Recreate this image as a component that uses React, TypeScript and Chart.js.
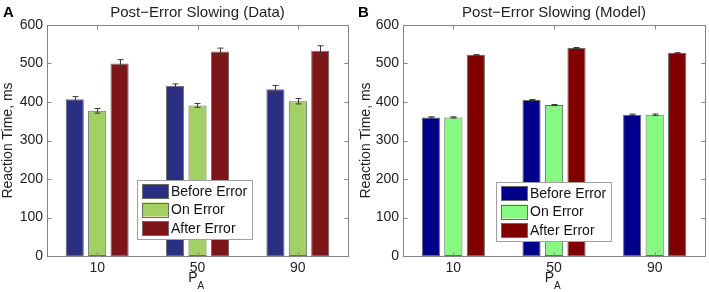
import React, { useEffect, useRef } from 'react';
import { Chart, registerables } from 'chart.js';
Chart.register(...registerables);

const categories = ['10', '50', '90'];
const seriesLabels = ['Before Error', 'On Error', 'After Error'];
const yTicks = [0, 100, 200, 300, 400, 500, 600];

const dataBefore = [407, 442, 433];
const dataOn = [377, 391, 402];
const dataAfter = [500, 531, 533];
const dataErrBefore = [7, 5, 10];
const dataErrOn = [6, 5, 7];
const dataErrAfter = [10, 9, 13];

const modelBefore = [360, 405, 367];
const modelOn = [360, 392, 367];
const modelAfter = [522, 540, 527];
const modelErrBefore = [1.5, 1.5, 1.5];
const modelErrOn = [1.5, 1.5, 2];
const modelErrAfter = [1, 1.5, 1];

const FONT = '"Liberation Sans", Arial, Helvetica, sans-serif';

const panelPlugin = {
  id: 'panelDeco',
  afterDatasetsDraw(chart: any, _args: any, opts: any) {
    const ctx = chart.ctx;
    const ca = chart.chartArea;
    const ys = chart.scales.y;
    const xs = chart.scales.x;
    ctx.save();
    // error bars
    ctx.strokeStyle = '#3a3a3a';
    ctx.lineWidth = 1;
    chart.data.datasets.forEach((ds: any, di: number) => {
      const meta = chart.getDatasetMeta(di);
      const errs = opts.errors[di];
      meta.data.forEach((el: any, i: number) => {
        const v = ds.data[i];
        const e = errs[i];
        const x = Math.round(el.x) + 0.5;
        const yt = ys.getPixelForValue(v + e);
        const yb = ys.getPixelForValue(v - e);
        ctx.beginPath();
        ctx.moveTo(x, yt);
        ctx.lineTo(x, yb);
        ctx.moveTo(x - 3, yt);
        ctx.lineTo(x + 3, yt);
        ctx.moveTo(x - 3, yb);
        ctx.lineTo(x + 3, yb);
        ctx.stroke();
      });
    });
    // frame
    ctx.strokeStyle = '#858585';
    ctx.lineWidth = 1;
    const L = Math.round(ca.left) + 0.5;
    const R = Math.round(ca.right) + 0.5;
    const T = Math.round(ca.top) + 0.5;
    const B = Math.round(ca.bottom) + 0.5;
    ctx.strokeRect(L, T, R - L, B - T);
    ctx.beginPath();
    yTicks.forEach((t) => {
      const y = Math.round(ys.getPixelForValue(t)) + 0.5;
      ctx.moveTo(L, y);
      ctx.lineTo(L + 4, y);
      ctx.moveTo(R, y);
      ctx.lineTo(R - 4, y);
    });
    categories.forEach((_c, i) => {
      const x = Math.round(xs.getPixelForValue(i)) + 0.5;
      ctx.moveTo(x, B);
      ctx.lineTo(x, B - 4);
      ctx.moveTo(x, T);
      ctx.lineTo(x, T + 4);
    });
    ctx.stroke();

    // legend
    const lx = ca.left + opts.legendX;
    const ly = opts.legendY;
    const lw = 115;
    const lh = 59;
    ctx.fillStyle = '#ffffff';
    ctx.fillRect(lx, ly, lw, lh);
    ctx.strokeStyle = '#a0a0a0';
    ctx.strokeRect(Math.round(lx) + 0.5, Math.round(ly) + 0.5, lw, lh);
    ctx.font = '14px ' + FONT;
    ctx.textBaseline = 'middle';
    ctx.textAlign = 'left';
    chart.data.datasets.forEach((ds: any, di: number) => {
      const cy = ly + 11 + di * 18.5;
      ctx.fillStyle = ds.backgroundColor;
      ctx.fillRect(lx + 5, cy - 7, 26, 14);
      ctx.strokeStyle = '#6a6a6a';
      ctx.strokeRect(Math.round(lx + 5) + 0.5, Math.round(cy - 7) + 0.5, 26, 14);
      ctx.fillStyle = '#111';
      ctx.fillText(ds.label, lx + 34, cy + 1);
    });

    // title
    ctx.fillStyle = '#222';
    ctx.textAlign = 'center';
    ctx.textBaseline = 'alphabetic';
    ctx.font = '15px ' + FONT;
    ctx.fillText(opts.title, (ca.left + ca.right) / 2, 17);
    // panel letter
    ctx.textAlign = 'left';
    ctx.font = 'bold 15px ' + FONT;
    ctx.fillStyle = '#000';
    ctx.fillText(opts.letter, opts.letterX, 17);
    // x title P_A
    const cx = (ca.left + ca.right) / 2;
    ctx.fillStyle = '#222';
    ctx.font = '14px ' + FONT;
    ctx.textAlign = 'right';
    ctx.fillText('P', cx, 282);
    ctx.font = '10px ' + FONT;
    ctx.textAlign = 'left';
    ctx.fillText('A', cx, 289);
    // y title
    ctx.save();
    ctx.translate(opts.yTitleX, (ca.top + ca.bottom) / 2);
    ctx.rotate(-Math.PI / 2);
    ctx.textAlign = 'center';
    ctx.textBaseline = 'middle';
    ctx.font = '14px ' + FONT;
    ctx.fillStyle = '#222';
    ctx.fillText('Reaction Time, ms', 0, 0);
    ctx.restore();
    ctx.restore();
  },
};

function makeConfig(
  values: number[][],
  colors: string[],
  errors: number[][],
  title: string,
  letter: string,
  yWidth: number,
  rightPad: number,
  legendX: number,
  legendY: number,
  letterX: number,
  yTitleX: number
): any {
  return {
    type: 'bar',
    data: {
      labels: categories,
      datasets: values.map((v, i) => ({
        label: seriesLabels[i],
        data: v,
        backgroundColor: colors[i],
        borderColor: '#6a6a6a',
        borderWidth: 1,
        borderSkipped: false,
        categoryPercentage: 0.67,
        barPercentage: 0.81,
      })),
    },
    options: {
      responsive: false,
      animation: false,
      layout: { padding: { top: 25, right: rightPad, left: 0, bottom: 0 } },
      plugins: {
        legend: { display: false },
        tooltip: { enabled: false },
        title: { display: false },
        panelDeco: { errors, title, letter, legendX, legendY, letterX, yTitleX },
      },
      scales: {
        x: {
          grid: { display: false, drawTicks: false },
          border: { display: false },
          ticks: { font: { size: 14, family: FONT }, color: '#222', padding: 4 },
          afterFit: (s: any) => {
            s.height = 36;
          },
        },
        y: {
          min: 0,
          max: 600,
          grid: { display: false, drawTicks: false },
          border: { display: false },
          ticks: { stepSize: 100, font: { size: 14, family: FONT }, color: '#222', padding: 4 },
          afterFit: (s: any) => {
            s.width = yWidth;
          },
        },
      },
    },
    plugins: [panelPlugin],
  };
}

function Panel(props: { config: any; width: number; left: number }) {
  const ref = useRef<HTMLCanvasElement | null>(null);
  useEffect(() => {
    if (!ref.current) return;
    const chart = new Chart(ref.current, props.config);
    return () => chart.destroy();
  }, []);
  return (
    <canvas
      ref={ref}
      width={props.width}
      height={292}
      style={{ position: 'absolute', left: props.left, top: 0, width: props.width, height: 292 }}
    />
  );
}

export default function App() {
  useEffect(() => {
    document.body.style.margin = '0';
    document.body.style.background = '#fff';
  }, []);
  const cfgA = makeConfig(
    [dataBefore, dataOn, dataAfter],
    ['#2b2f84', '#a2d062', '#7e1619'],
    [dataErrBefore, dataErrOn, dataErrAfter],
    'Post\u2212Error Slowing (Data)',
    'A',
    47,
    7,
    90,
    180,
    3,
    8
  );
  const cfgB = makeConfig(
    [modelBefore, modelOn, modelAfter],
    ['#00008b', '#86fa80', '#800000'],
    [modelErrBefore, modelErrOn, modelErrAfter],
    'Post\u2212Error Slowing (Model)',
    'B',
    48,
    4,
    93,
    182,
    3,
    11
  );
  return (
    <div style={{ position: 'relative', width: 709, height: 292, background: '#fff' }}>
      <Panel config={cfgA} width={355} left={0} />
      <Panel config={cfgB} width={354} left={355} />
    </div>
  );
}
